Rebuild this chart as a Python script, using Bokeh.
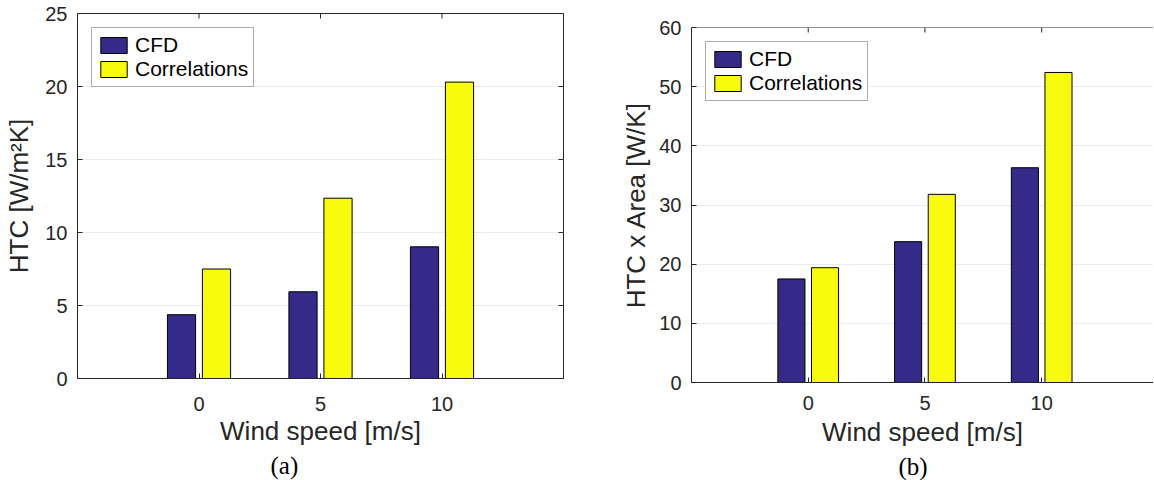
from bokeh.plotting import figure
from bokeh.layouts import row
from bokeh.models import FixedTicker, Title, Legend, LegendItem, Range1d
from bokeh.embed import file_html
from bokeh.resources import INLINE

# ---- data ----
wind = [0, 5, 10]
htc_cfd = [4.37, 5.94, 9.02]
htc_corr = [7.5, 12.35, 20.3]
htca_cfd = [17.5, 23.8, 36.3]
htca_corr = [19.4, 31.8, 52.4]
series = ["CFD", "Correlations"]
colors = ["#352A87", "#F9FB0E"]
x_ticks = [0, 5, 10]
left_yticks = [0, 5, 10, 15, 20, 25]
right_yticks = [0, 10, 20, 30, 40, 50, 60]

DARK = "#262626"
BAR_OFF = 0.72
BAR_W = 1.16
TICK_PX = 5


def style_axis(ax):
    ax.axis_line_color = DARK
    ax.axis_line_width = 1
    ax.major_tick_line_color = DARK
    ax.major_tick_in = TICK_PX
    ax.major_tick_out = 0
    ax.minor_tick_line_color = None
    ax.major_label_text_font = "Liberation Sans"
    ax.major_label_text_color = DARK
    ax.major_label_text_font_size = "20px"
    ax.axis_label_text_font = "Liberation Sans"
    ax.axis_label_text_font_size = "26px"
    ax.axis_label_text_font_style = "normal"
    ax.axis_label_text_color = DARK


def panel(cfd, corr, yticks, ymax, ylabel, caption, cap_off, width, height,
          bl, br, bt, bb, xend, full_box, ylab_standoff, xtick_standoff,
          xlab_standoff, cap_standoff):
    p = figure(width=width, height=height, output_backend="svg", toolbar_location=None,
               x_range=Range1d(-5, xend), y_range=Range1d(0, ymax),
               min_border_left=bl, min_border_right=br, min_border_top=bt,
               min_border_bottom=bb, frame_align=False)
    p.background_fill_color = "white"
    p.border_fill_color = "white"
    p.outline_line_color = DARK if full_box else None
    p.xgrid.grid_line_color = None
    p.ygrid.grid_line_color = "#ebebeb"
    p.ygrid.ticker = FixedTicker(ticks=yticks)

    xa = p.xaxis[0]
    xa.ticker = FixedTicker(ticks=x_ticks)
    xa.axis_label = "Wind speed [m/s]"
    style_axis(xa)
    xa.major_label_standoff = xtick_standoff
    xa.axis_label_standoff = xlab_standoff

    ya = p.yaxis[0]
    ya.ticker = FixedTicker(ticks=yticks)
    ya.axis_label = ylabel
    style_axis(ya)
    ya.major_label_standoff = 10
    ya.axis_label_standoff = ylab_standoff

    frame_w = width - bl - br
    frame_h = height - bt - bb
    # inward tick marks on the top edge (and right edge when the box is closed)
    dy = TICK_PX * ymax / frame_h
    p.segment(x0=x_ticks, x1=x_ticks, y0=[ymax] * len(x_ticks),
              y1=[ymax - dy] * len(x_ticks), line_color=DARK, line_width=1)
    if full_box:
        dx = TICK_PX * (xend + 5) / frame_w
        p.segment(x0=[xend] * len(yticks), x1=[xend - dx] * len(yticks),
                  y0=yticks, y1=yticks, line_color=DARK, line_width=1)
    else:
        p.segment(x0=[-5], x1=[xend], y0=[ymax], y1=[ymax],
                  line_color=DARK, line_width=1)

    xs_cfd = [w - BAR_OFF for w in wind]
    xs_cor = [w + BAR_OFF for w in wind]
    r1 = p.vbar(x=xs_cfd, top=cfd, width=BAR_W, bottom=0, fill_color=colors[0],
                line_color="black", line_width=1)
    r2 = p.vbar(x=xs_cor, top=corr, width=BAR_W, bottom=0, fill_color=colors[1],
                line_color="black", line_width=1)

    leg = Legend(items=[LegendItem(label=series[0], renderers=[r1]),
                        LegendItem(label=series[1], renderers=[r2])],
                 location="top_left", margin=14, padding=5, spacing=0,
                 glyph_width=33, glyph_height=20, label_standoff=5,
                 label_height=20,
                 label_text_font="Liberation Sans", label_text_font_size="21px",
                 label_text_color="black",
                 border_line_color="#5a5a5a", border_line_width=1,
                 background_fill_color="white", background_fill_alpha=1)
    p.add_layout(leg)

    p.add_layout(Title(text=caption, align="left", offset=cap_off, standoff=cap_standoff,
                       text_font="Liberation Serif", text_font_size="25px",
                       text_font_style="normal", text_color="black"), "below")
    return p


p1 = panel(htc_cfd, htc_corr, left_yticks, 25, "HTC [W/m\u00b2K]", "(a)", 193,
           width=600, height=480, bl=77, br=37, bt=13, bb=101, xend=15,
           full_box=True, ylab_standoff=8, xtick_standoff=18, xlab_standoff=2,
           cap_standoff=3)
p2 = panel(htca_cfd, htca_corr, right_yticks, 60, "HTC x Area [W/K]", "(b)", 207,
           width=553, height=480, bl=91, br=0, bt=27, bb=98, xend=14.79,
           full_box=False, ylab_standoff=5, xtick_standoff=13, xlab_standoff=4,
           cap_standoff=2)

layout = row(p1, p2)
open("out.html", "w").write(file_html(layout, INLINE))
